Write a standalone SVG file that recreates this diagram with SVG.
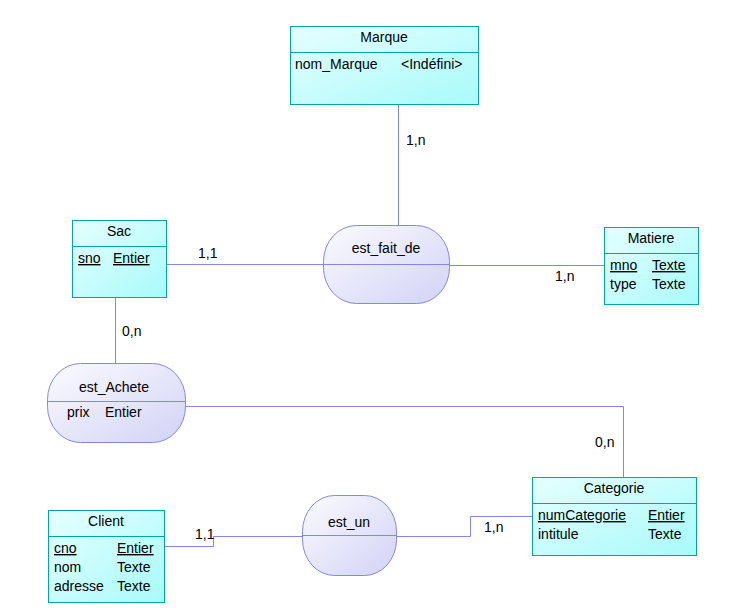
<svg xmlns="http://www.w3.org/2000/svg" width="741" height="608" viewBox="0 0 741 608">
  <defs>
    <linearGradient id="entFill" x1="0" y1="0" x2="1" y2="1">
      <stop offset="0" stop-color="#e6ffff"/>
      <stop offset="1" stop-color="#a8fafa"/>
    </linearGradient>
    <linearGradient id="relFill" x1="0" y1="0" x2="1" y2="1">
      <stop offset="0" stop-color="#fbfbff"/>
      <stop offset="1" stop-color="#d2d2f6"/>
    </linearGradient>
    <style>
      text { font-family: "Liberation Sans", Arial, sans-serif; font-size: 14px; fill: #000; }
      .title { text-anchor: middle; }
      .ent { fill: url(#entFill); stroke: #00a6a6; stroke-width: 1; }
      .entSep { stroke: #00a6a6; stroke-width: 1; }
      .rel { fill: url(#relFill); stroke: #8585f0; stroke-width: 1; }
      .relSep { stroke: #8585f0; stroke-width: 1; }
      .link { fill: none; stroke: #8585f0; stroke-width: 1; }
      .key { text-decoration: underline; }
    </style>
  </defs>

  <rect width="741" height="608" fill="#ffffff"/>

  <!-- connectors -->
  <g id="connectors">
    <polyline class="link" points="398.5,104 398.5,226"/>
    <polyline class="link" points="167,264.5 324,264.5"/>
    <polyline class="link" points="449,265.5 604,265.5"/>
    <polyline class="link" points="115.5,298 115.5,364"/>
    <polyline class="link" points="185,406.5 623.5,406.5 623.5,477"/>
    <polyline class="link" points="164,546.5 213.5,546.5 213.5,536.5 302,536.5"/>
    <polyline class="link" points="396,536.5 470.5,536.5 470.5,516.5 532,516.5"/>
    <text x="406" y="145">1,n</text>
    <text x="198" y="258">1,1</text>
    <text x="555" y="281">1,n</text>
    <text x="122" y="336">0,n</text>
    <text x="595" y="447">0,n</text>
    <text x="195" y="539">1,1</text>
    <text x="484" y="532">1,n</text>
  </g>

  <!-- entities -->
  <g id="Marque">
    <rect class="ent" x="290.5" y="26.5" width="188" height="78"/>
    <line class="entSep" x1="290.5" y1="52.5" x2="478.5" y2="52.5"/>
    <text class="title" x="384" y="42">Marque</text>
    <text x="295" y="69">nom_Marque</text>
    <text x="401" y="69">&lt;Indéfini&gt;</text>
  </g>

  <g id="Sac">
    <rect class="ent" x="72.5" y="220.5" width="94" height="77"/>
    <line class="entSep" x1="72.5" y1="246.5" x2="166.5" y2="246.5"/>
    <text class="title" x="119" y="236">Sac</text>
    <text class="key" x="78" y="263">sno</text>
    <text class="key" x="113" y="263">Entier</text>
  </g>

  <g id="Matiere">
    <rect class="ent" x="604.5" y="227.5" width="94" height="77"/>
    <line class="entSep" x1="604.5" y1="253.5" x2="698.5" y2="253.5"/>
    <text class="title" x="651" y="243">Matiere</text>
    <text class="key" x="610" y="270">mno</text>
    <text class="key" x="652" y="270">Texte</text>
    <text x="610" y="289">type</text>
    <text x="652" y="289">Texte</text>
  </g>

  <g id="Categorie">
    <rect class="ent" x="532.5" y="477.5" width="164" height="78"/>
    <line class="entSep" x1="532.5" y1="503.5" x2="696.5" y2="503.5"/>
    <text class="title" x="614" y="493">Categorie</text>
    <text class="key" x="538" y="520">numCategorie</text>
    <text class="key" x="648" y="520">Entier</text>
    <text x="538" y="539">intitule</text>
    <text x="648" y="539">Texte</text>
  </g>

  <g id="Client">
    <rect class="ent" x="48.5" y="510.5" width="116" height="92"/>
    <line class="entSep" x1="48.5" y1="536.5" x2="164.5" y2="536.5"/>
    <text class="title" x="106" y="526">Client</text>
    <text class="key" x="54" y="553">cno</text>
    <text class="key" x="117" y="553">Entier</text>
    <text x="54" y="572">nom</text>
    <text x="117" y="572">Texte</text>
    <text x="54" y="591">adresse</text>
    <text x="117" y="591">Texte</text>
  </g>

  <!-- associations -->
  <g id="est_fait_de">
    <rect class="rel" x="323.5" y="225.5" width="126" height="78" rx="33" ry="36"/>
    <line class="relSep" x1="323.5" y1="264.5" x2="449.5" y2="264.5"/>
    <text class="title" x="386" y="253">est_fait_de</text>
  </g>

  <g id="est_Achete">
    <rect class="rel" x="47.5" y="363.5" width="138" height="79" rx="33" ry="36"/>
    <line class="relSep" x1="47.5" y1="401.5" x2="185.5" y2="401.5"/>
    <text class="title" x="114" y="392">est_Achete</text>
    <text x="67" y="417">prix</text>
    <text x="105" y="417">Entier</text>
  </g>

  <g id="est_un">
    <rect class="rel" x="302.5" y="495.5" width="94" height="80" rx="32" ry="36"/>
    <line class="relSep" x1="302.5" y1="535.5" x2="396.5" y2="535.5"/>
    <text class="title" x="349" y="527">est_un</text>
  </g>
</svg>
